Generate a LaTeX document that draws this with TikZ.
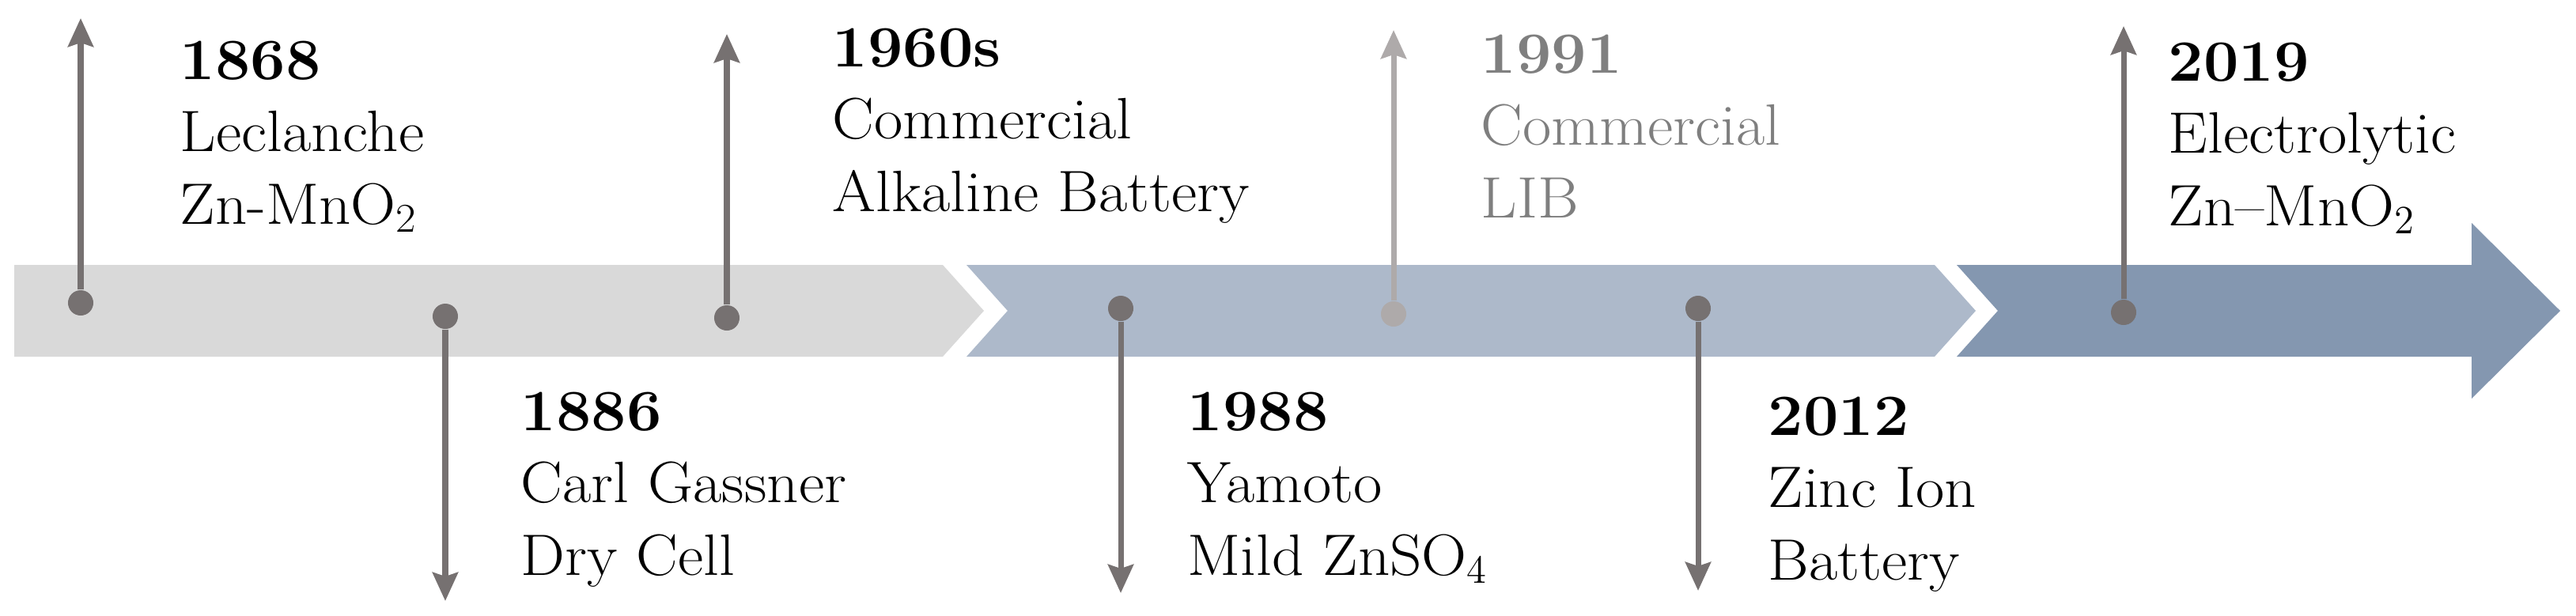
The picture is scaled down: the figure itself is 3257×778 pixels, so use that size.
\documentclass[tikz,border=0pt]{standalone}
\usepackage{fontspec}
\setmainfont{Latin Modern Roman}[FakeStretch=1.07]
\usetikzlibrary{arrows.meta}
\definecolor{bandA}{HTML}{D9D9D9}
\definecolor{bandB}{HTML}{ADB9CA}
\definecolor{bandC}{HTML}{8497B0}
\definecolor{pin}{HTML}{767171}
\definecolor{pinlight}{HTML}{AEAAAA}
\definecolor{txtlight}{HTML}{7F7F7F}
\tikzset{
  pinline/.style={draw=#1, line width=2pt, -{Stealth[length=0.36cm,width=0.32cm,inset=0.05cm]}},
  pinline/.default=pin,
  pindot/.style={circle, fill=#1, inner sep=0pt, minimum size=0.32cm},
  pindot/.default=pin,
  evtext/.style={anchor=base west, inner sep=0pt, align=left, font=\fontsize{21pt}{26pt}\selectfont},
}
\begin{document}
\begin{tikzpicture}[x=0.01cm, y=-0.01cm]
\useasboundingbox (0,0) rectangle (3257,778);
% bands
\fill[bandA] (18,335) -- (1192,335) -- (1244,393) -- (1192,451) -- (18,451) -- cycle;
\fill[bandB] (1222,335) -- (2446,335) -- (2498,393) -- (2446,451) -- (1222,451) -- (1274,393) -- cycle;
\fill[bandC] (2474,335) -- (3125,335) -- (3125,282) -- (3237,393) -- (3125,504) -- (3125,451) -- (2474,451) -- (2526,393) -- cycle;
% pins
\node[pindot] (d1868) at (102,383) {};
\coordinate (e1868) at (102,23);
\draw[pinline] (d1868) -- (e1868);
\node[pindot] (d1886) at (563,400) {};
\coordinate (e1886) at (563,760);
\draw[pinline] (d1886) -- (e1886);
\node[pindot] (d1960) at (919,402) {};
\coordinate (e1960) at (919,43);
\draw[pinline] (d1960) -- (e1960);
\node[pindot] (d1988) at (1417,390) {};
\coordinate (e1988) at (1417,750);
\draw[pinline] (d1988) -- (e1988);
\node[pindot=pinlight] (d1991) at (1762,397) {};
\coordinate (e1991) at (1762,38);
\draw[pinline=pinlight] (d1991) -- (e1991);
\node[pindot] (d2012) at (2147,390) {};
\coordinate (e2012) at (2147,747);
\draw[pinline] (d2012) -- (e2012);
\node[pindot] (d2019) at (2685,395) {};
\coordinate (e2019) at (2685,33);
\draw[pinline] (d2019) -- (e2019);
% texts (anchored at the baseline of the last line)
\node[evtext] (t1868) at (227,283) {\textbf{1868}\\Leclanche\\Zn-MnO\textsubscript{2}};
\node[evtext] (t1886) at (658,727) {\textbf{1886}\\Carl Gassner\\Dry Cell};
\node[evtext] (t1960) at (1052,267) {\textbf{1960s}\\Commercial\\Alkaline Battery};
\node[evtext] (t1988) at (1501,727) {\textbf{1988}\\Yamoto\\Mild ZnSO$_4$};
\node[evtext, text=txtlight] (t1991) at (1872,275) {\textbf{1991}\\Commercial\\LIB};
\node[evtext] (t2012) at (2235,733) {\textbf{2012}\\Zinc Ion\\Battery};
\node[evtext] (t2019) at (2741,285) {\textbf{2019}\\Electrolytic\\Zn--MnO$_2$};
\end{tikzpicture}
\end{document}
